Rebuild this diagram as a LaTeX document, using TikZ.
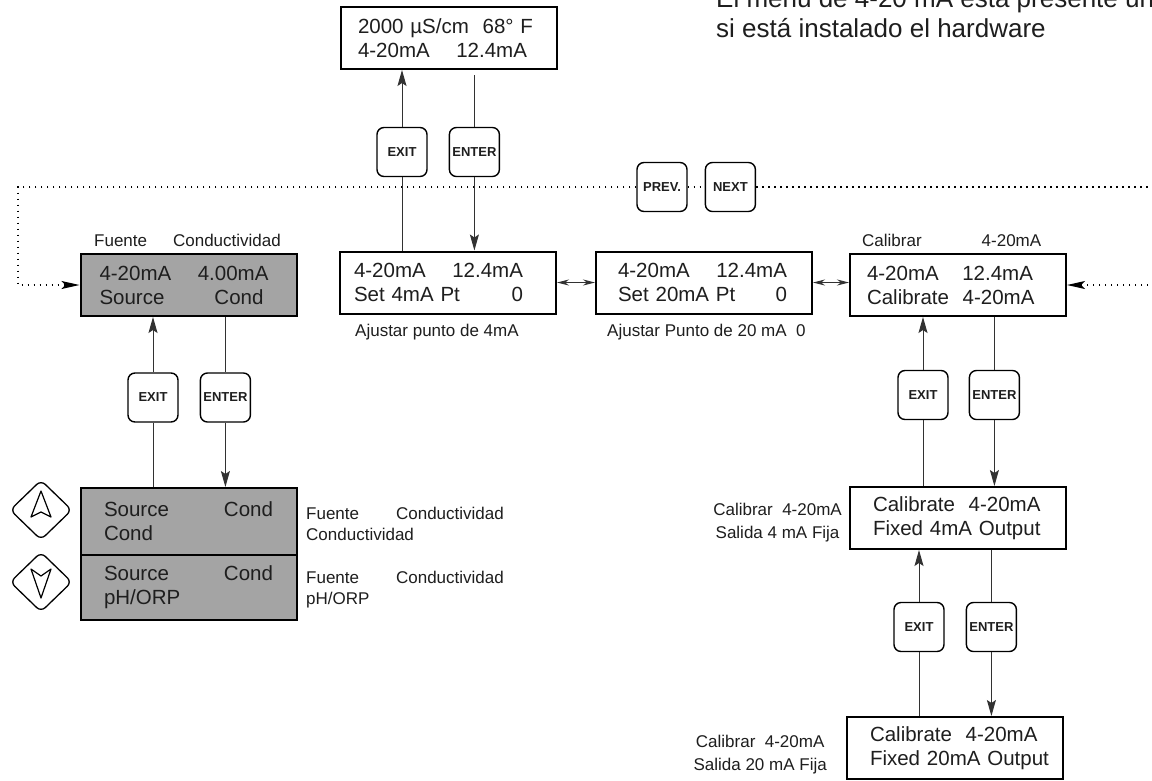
\documentclass[tikz,border=0pt]{standalone}
\usepackage{fontspec}
\setmainfont{Liberation Sans}
\usetikzlibrary{arrows.meta,positioning,shapes.geometric}

\definecolor{lcdgray}{RGB}{164,164,164}
\definecolor{wirecol}{RGB}{50,50,50}
\definecolor{inkcol}{RGB}{30,30,30}

\newcommand{\lcdrow}[4]{\hspace*{#1}\makebox[#2][l]{#3\hfill#4}}

\begin{document}
\begin{tikzpicture}[x=1pt,y=-1pt,
    lcd/.style={draw=black, line width=2pt, minimum width=216pt, minimum height=62pt,
      text width=216pt, inner xsep=0pt, align=left, text=inkcol,
      font=\fontsize{20.5}{24}\selectfont},
    lcdgrey/.style={lcd, fill=lcdgray},
    keybtn/.style={draw=black, line width=1.4pt, rounded corners=7pt, minimum width=50pt,
      minimum height=49pt, inner sep=0pt, text=inkcol, font=\fontsize{13}{15}\selectfont\bfseries},
    arrowkey/.style={diamond, draw=black, line width=1.3pt, rounded corners=6pt,
      minimum width=62pt, minimum height=60pt, inner sep=0pt},
    lbl/.style={text=inkcol, font=\fontsize{17}{21}\selectfont, inner sep=0pt},
    wire/.style={draw=wirecol, line width=1pt},
    arr/.style={wire, -{Stealth[length=16pt,width=9pt,inset=3pt]}},
    darr/.style={wire, {Stealth[length=12pt,width=6pt]}-{Stealth[length=12pt,width=6pt]}},
    dots/.style={draw=black, line width=1.4pt, dash pattern=on 1.4pt off 4.6pt},
    darrow/.style={dots, -{Stealth[length=18pt,width=8pt,inset=4pt]}}]

  \useasboundingbox (0,0) rectangle (1152,780);
  \fill[white] (0,0) rectangle (1152,780);

  % Note (base is the last line)
  \node[lbl, font=\fontsize{26}{30}\selectfont, anchor=base west, align=left] (note) at (716,37)
    {El menú de 4-20 mA está presente únicamente\\si está instalado el hardware};

  % Displays
  \node[lcd] (top) at (449,38)
    {\lcdrow{17pt}{175pt}{2000 µS/cm}{68° F}\\\lcdrow{17pt}{169pt}{4-20mA}{12.4mA}};
  \node[lcdgrey] (src) at (188.5,285)
    {\lcdrow{19pt}{169pt}{4-20mA}{4.00mA}\\\lcdrow{19pt}{164pt}{Source}{Cond}};
  \node[lcd] (set4) at (448,282.5)
    {\lcdrow{14pt}{169pt}{4-20mA}{12.4mA}\\\lcdrow{14pt}{169pt}{Set 4mA Pt}{0}};
  \node[lcd] (set20) at (704,282.5)
    {\lcdrow{22pt}{169pt}{4-20mA}{12.4mA}\\\lcdrow{22pt}{169pt}{Set 20mA Pt}{0}};
  \node[lcd] (calib) at (958,285)
    {\lcdrow{17pt}{166pt}{4-20mA}{12.4mA}\\\hspace*{17pt}Calibrate\ \ 4-20mA};
  \node[lcdgrey, minimum height=67pt] (list1) at (189,521.5)
    {\lcdrow{23pt}{169pt}{Source}{Cond}\\\hspace*{23pt}Cond};
  \node[lcdgrey, minimum height=65pt] (list2) at (189,587.5)
    {\lcdrow{23pt}{169pt}{Source}{Cond}\\\hspace*{23pt}pH/ORP};
  \node[lcd] (fix4) at (958,518)
    {\hspace*{23pt}Calibrate\ \ 4-20mA\\\hspace*{23pt}Fixed 4mA Output};
  \node[lcd] (fix20) at (955,748)
    {\hspace*{23pt}Calibrate\ \ 4-20mA\\\hspace*{23pt}Fixed 20mA Output};

  % Labels
  \node[lbl, anchor=base west] (srcLbl) at (94,246) {Fuente\hspace{26pt}Conductividad};
  \node[lbl, anchor=base west] (set4Lbl) at (355,336) {Ajustar punto de 4mA};
  \node[lbl, anchor=base west] (set20Lbl) at (607,336) {Ajustar Punto de 20 mA\ \ 0};
  \node[lbl, anchor=base west] (calibLbl) at (862,246) {Calibrar\hspace{60pt}4-20mA};
  \node[lbl, anchor=base west, align=left] (list1Lbl) at (306,540)
    {Fuente\hspace{37pt}Conductividad\\Conductividad};
  \node[lbl, anchor=base west, align=left] (list2Lbl) at (306,604)
    {Fuente\hspace{37pt}Conductividad\\pH/ORP};
  \node[lbl, anchor=base east, align=center, font=\fontsize{17}{23}\selectfont] (fix4Lbl) at (842,538)
    {Calibrar\ \ 4-20mA\\Salida 4 mA Fija};
  \node[lbl, anchor=base east, align=center, font=\fontsize{17}{23}\selectfont] (fix20Lbl) at (827,770)
    {Calibrar\ \ 4-20mA\\Salida 20 mA Fija};

  % Keys
  \node[keybtn] (exitT) at (402,152) {EXIT};
  \node[keybtn, right=21pt of exitT] (enterT) {ENTER};
  \node[keybtn] (prev) at (662,187) {PREV.};
  \node[keybtn, right=17pt of prev] (next) {NEXT};
  \node[keybtn] (exitL) at (153,397.5) {EXIT};
  \node[keybtn, right=21pt of exitL] (enterL) {ENTER};
  \node[keybtn] (exitR1) at (923,395) {EXIT};
  \node[keybtn, right=20pt of exitR1] (enterR1) {ENTER};
  \node[keybtn] (exitR2) at (919,627) {EXIT};
  \node[keybtn, right=21pt of exitR2] (enterR2) {ENTER};

  % Up / down keys
  \node[arrowkey] (upKey) at (41,510) {};
  \node[arrowkey] (downKey) at (41,582) {};
  \draw[line width=1.2pt, line join=round] ([shift={(0,-19)}]upKey.center) -- ([shift={(10,7)}]upKey.center)
    -- ([shift={(0,2)}]upKey.center) -- ([shift={(-10,7)}]upKey.center) -- cycle;
  \draw[line width=1.2pt, line join=round] ([shift={(0,16)}]downKey.center) -- ([shift={(10,-13)}]downKey.center)
    -- ([shift={(0,-6)}]downKey.center) -- ([shift={(-10,-13)}]downKey.center) -- cycle;

  % Top column
  \draw[arr] (exitT.north) -- (exitT.north |- top.south);
  \draw[wire] ([yshift=-5pt]enterT.north |- top.south) -- (enterT.north);
  \draw[wire] (exitT.south) -- (exitT.south |- set4.north);
  \draw[arr] (enterT.south) -- (enterT.south |- set4.north);

  % Left column
  \draw[arr] (exitL.north) -- (exitL.north |- src.south);
  \draw[wire] (exitL.south) -- (exitL.south |- list1.north);
  \draw[wire] (enterL.north |- src.south) -- (enterL.north);
  \draw[arr] (enterL.south) -- (enterL.south |- list1.north);

  % Right column
  \draw[arr] (exitR1.north) -- (exitR1.north |- calib.south);
  \draw[wire] (exitR1.south) -- (exitR1.south |- fix4.north);
  \draw[wire] (enterR1.north |- calib.south) -- (enterR1.north);
  \draw[arr] (enterR1.south) -- (enterR1.south |- fix4.north);
  \draw[arr] (exitR2.north) -- (exitR2.north |- fix4.south);
  \draw[wire] (exitR2.south) -- (exitR2.south |- fix20.north);
  \draw[wire] (enterR2.north |- fix4.south) -- (enterR2.north);
  \draw[arr] (enterR2.south) -- (enterR2.south |- fix20.north);

  % Menu row
  \draw[darr] (set4.east) -- (set20.west);
  \draw[darr] (set20.east) -- (set20.east -| calib.west);

  % Dotted loop
  \coordinate (wrapL) at (18,187);
  \coordinate (wrapR) at (1160,187);
  \coordinate (wrapR2) at (1160,285);
  \draw[darrow] (prev.west) -- (prev.west -| wrapL) |- (src.west);
  \draw[dots] (prev.east) -- (next.west);
  \draw[dots] (next.east) -- (wrapR);
  \draw[darrow] (wrapR2) -- (calib.east);
\end{tikzpicture}
\end{document}
